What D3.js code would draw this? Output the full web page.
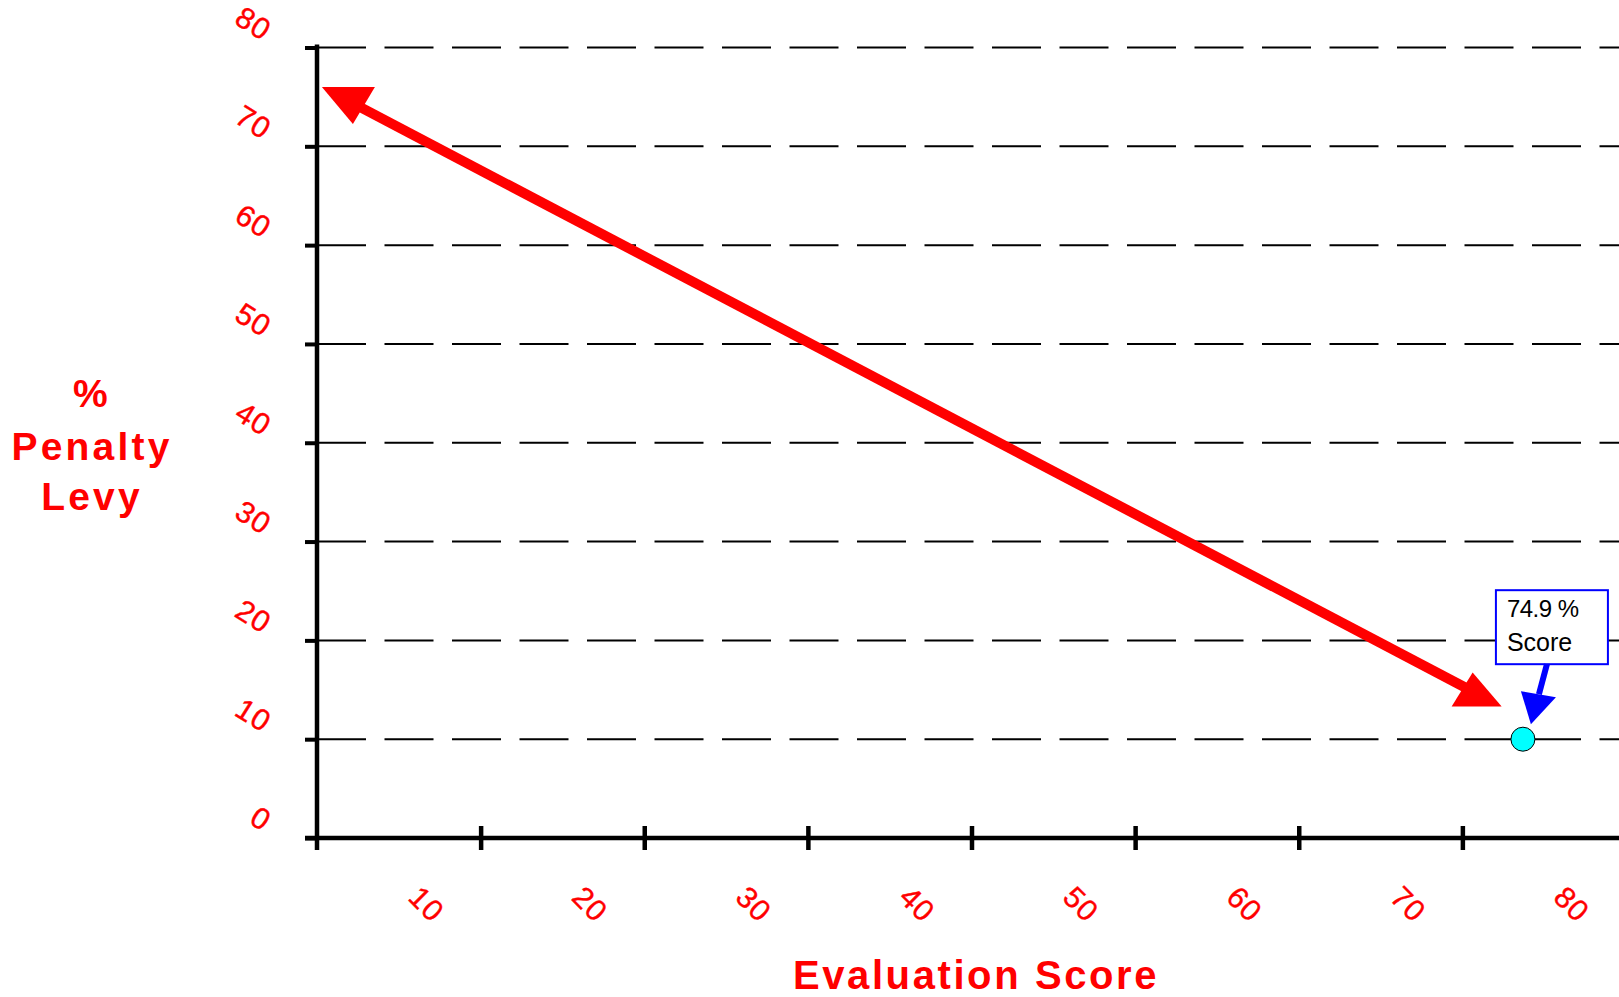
<!DOCTYPE html>
<html>
<head>
<meta charset="utf-8">
<script src="https://cdn.jsdelivr.net/npm/d3@7"></script>
<style>
  html, body { margin: 0; padding: 0; background: #fff; }
  svg { display: block; }
</style>
</head>
<body>
<svg id="chart" width="1619" height="997"></svg>
<script>
// chart values
const y_ticks = [0, 10, 20, 30, 40, 50, 60, 70, 80];
const x_ticks = [10, 20, 30, 40, 50, 60, 70, 80];
const grid_levels = [10, 20, 30, 40, 50, 60, 70, 80];
const penalty_line = [
    { score: 0.3, penalty: 76.0 },
    { score: 72.4, penalty: 13.3 }
];
const score_point = [{ score: 73.7, penalty: 10, label1: "74.9 %", label2: "Score" }];
const y_title = ["%", "Penalty", "Levy"];
const x_title = "Evaluation Score";

const svg = d3.select("#chart");
const red = "#ff0000";

const x = d3.scaleLinear().domain([0, 80]).range([317, 1626]);
const y = d3.scaleLinear().domain([0, 80]).range([838, 47.5]);

// dashed grid lines
svg.append("g")
    .selectAll("line")
    .data(grid_levels)
    .enter()
    .append("line")
    .attr("x1", x(0))
    .attr("x2", 1619)
    .attr("y1", d => y(d))
    .attr("y2", d => y(d))
    .attr("stroke", "#000")
    .attr("stroke-width", 2)
    .attr("stroke-dasharray", "49,18.5");

// y axis with short left ticks
const y_axis = svg.append("g")
    .attr("transform", `translate(${x(0)},0)`)
    .call(d3.axisLeft(y).tickValues(y_ticks).tickSize(12).tickFormat(""));
y_axis.select(".domain").remove();
y_axis.selectAll(".tick line").attr("stroke", "#000").attr("stroke-width", 4);
svg.append("line")
    .attr("x1", x(0)).attr("x2", x(0))
    .attr("y1", y(80) - 3).attr("y2", y(0) + 12)
    .attr("stroke", "#000").attr("stroke-width", 4.5);

// x axis with ticks crossing the line
const x_axis = svg.append("g")
    .attr("transform", `translate(0,${y(0)})`)
    .call(d3.axisBottom(x).tickValues(x_ticks).tickSize(12).tickFormat(""));
x_axis.select(".domain").remove();
x_axis.selectAll(".tick line")
    .attr("y1", -12)
    .attr("stroke", "#000").attr("stroke-width", 4.5);
svg.append("line")
    .attr("x1", x(0) - 12).attr("x2", 1619)
    .attr("y1", y(0)).attr("y2", y(0))
    .attr("stroke", "#000").attr("stroke-width", 4.5);

// tilted tick labels
svg.append("g")
    .selectAll("text")
    .data(y_ticks)
    .enter()
    .append("text")
    .attr("transform", d => `translate(263,${y(d) - 6}) rotate(32)`)
    .attr("text-anchor", "end")
    .attr("font-family", "Liberation Sans, Arial, sans-serif")
    .attr("font-size", 30)
    .attr("letter-spacing", 1)
    .attr("stroke", red)
    .attr("stroke-width", 0.4)
    .attr("fill", red)
    .text(d => d);

svg.append("g")
    .selectAll("text")
    .data(x_ticks)
    .enter()
    .append("text")
    .attr("transform", d => `translate(${x(d) - 54},${904}) rotate(45)`)
    .attr("text-anchor", "middle")
    .attr("dy", "0.35em")
    .attr("font-family", "Liberation Sans, Arial, sans-serif")
    .attr("font-size", 30)
    .attr("letter-spacing", 1)
    .attr("stroke", red)
    .attr("stroke-width", 0.4)
    .attr("fill", red)
    .text(d => d);

// axis titles
svg.append("g")
    .selectAll("text")
    .data(y_title)
    .enter()
    .append("text")
    .attr("x", 92)
    .attr("y", (d, i) => [407, 460, 510][i])
    .attr("text-anchor", "middle")
    .attr("font-family", "Liberation Sans, Arial, sans-serif")
    .attr("font-weight", "bold")
    .attr("font-size", 39)
    .attr("letter-spacing", 3.2)
    .attr("fill", red)
    .text(d => d);

svg.append("text")
    .attr("x", 976)
    .attr("y", 989)
    .attr("text-anchor", "middle")
    .attr("font-family", "Liberation Sans, Arial, sans-serif")
    .attr("font-weight", "bold")
    .attr("font-size", 40)
    .attr("letter-spacing", 2.6)
    .attr("fill", red)
    .text(x_title);

// red double arrow
const p0 = [x(penalty_line[0].score), y(penalty_line[0].penalty)];
const p1 = [x(penalty_line[1].score), y(penalty_line[1].penalty)];
const len = Math.hypot(p1[0] - p0[0], p1[1] - p0[1]);
const ux = (p1[0] - p0[0]) / len, uy = (p1[1] - p0[1]) / len;

svg.append("line")
    .attr("x1", p0[0] + ux * 32).attr("y1", p0[1] + uy * 32)
    .attr("x2", p1[0] - ux * 32).attr("y2", p1[1] - uy * 32)
    .attr("stroke", red)
    .attr("stroke-width", 10);

svg.append("path")
    .attr("d", `M${p0[0]},${p0[1]} l53,0 l-22,37 Z`)
    .attr("fill", red);
svg.append("path")
    .attr("d", `M${p1[0]},${p1[1]} l-50,0 l21,-34 Z`)
    .attr("fill", red);

// score marker with callout
const pt = score_point[0];
const px = x(pt.score), py = y(pt.penalty);

svg.append("rect")
    .attr("x", px - 27).attr("y", py - 149)
    .attr("width", 112).attr("height", 74)
    .attr("fill", "#fff")
    .attr("stroke", "#0000ff")
    .attr("stroke-width", 2);

svg.append("text")
    .attr("x", px - 16).attr("y", py - 122)
    .attr("font-family", "Liberation Sans, Arial, sans-serif")
    .attr("font-size", 24)
    .attr("letter-spacing", -0.5)
    .attr("fill", "#000")
    .text(pt.label1);
svg.append("text")
    .attr("x", px - 16).attr("y", py - 88)
    .attr("font-family", "Liberation Sans, Arial, sans-serif")
    .attr("font-size", 25)
    .attr("fill", "#000")
    .text(pt.label2);

svg.append("line")
    .attr("x1", px + 24).attr("y1", py - 75)
    .attr("x2", px + 16).attr("y2", py - 45)
    .attr("stroke", "#0000ff")
    .attr("stroke-width", 6);
svg.append("path")
    .attr("d", `M${px + 8},${py - 15} L${px - 2},${py - 48} L${px + 33},${py - 42} Z`)
    .attr("fill", "#0000ff");

svg.append("circle")
    .attr("cx", px).attr("cy", py)
    .attr("r", 12)
    .attr("fill", "#00ffff")
    .attr("stroke", "#000")
    .attr("stroke-width", 1);
</script>
</body>
</html>
